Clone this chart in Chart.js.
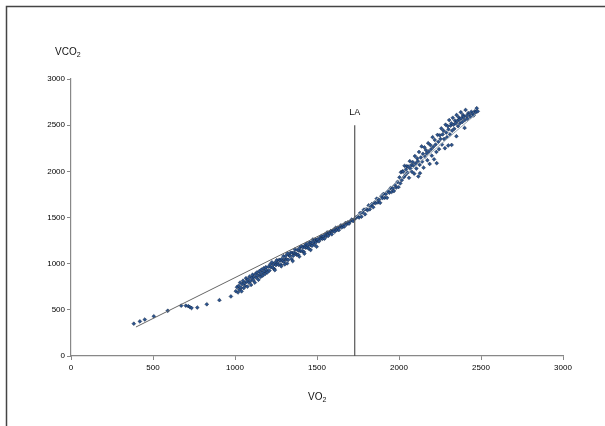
<!DOCTYPE html>
<html>
<head>
<meta charset="utf-8">
<script src="https://cdn.jsdelivr.net/npm/chart.js@4"></script>
<style>
  body { margin: 0; background: #fff; }
  #wrap { position: relative; width: 605px; height: 426px; }
  .axis-title { position: absolute; font-family: "Liberation Sans", Arial, sans-serif; font-size: 10px; color: #111; }
  .axis-title sub { font-size: 7px; vertical-align: -2px; }
</style>
</head>
<body>
<div id="wrap">
  <canvas id="chart" width="605" height="426"></canvas>
  <div class="axis-title" style="left:55px; top:46px;">VCO<sub>2</sub></div>
  <div class="axis-title" style="left:308px; top:391px;">VO<sub>2</sub></div>
</div>
<script>
const vo2 = [
  383, 420, 450, 505, 590, 672, 700, 715, 725, 735, 770, 828, 905, 975,
  1005, 1012, 1018, 1022, 1027, 1031, 1036, 1040, 1044, 1049, 1053, 1058, 1062, 1067, 1071, 1076, 1080, 1085, 1089, 1094,
  1098, 1103, 1107, 1112, 1116, 1121, 1125, 1130, 1134, 1139, 1143, 1148, 1152, 1157, 1161, 1166, 1170, 1175, 1179, 1184,
  1188, 1193, 1197,
  1205, 1210, 1215, 1220, 1225, 1230, 1235, 1240, 1245, 1250, 1255, 1260, 1265, 1270, 1275, 1280, 1285, 1290, 1295, 1300,
  1305, 1310, 1315, 1320, 1325, 1330, 1335, 1340, 1345, 1350, 1355, 1360, 1365, 1370, 1375, 1380, 1385, 1390, 1395, 1400,
  1405, 1410, 1415, 1420, 1425, 1430, 1435, 1440, 1445, 1450, 1455, 1460, 1465, 1470, 1475, 1480, 1485, 1490, 1495, 1500,
  1282, 1318, 1352, 1392, 1423, 1461, 1498, 1243, 1303,
  1505, 1512, 1518, 1523, 1528, 1534, 1540, 1546, 1551, 1557, 1562, 1568, 1573, 1579, 1585, 1590, 1596, 1602, 1608, 1614,
  1620, 1626, 1633, 1640, 1646, 1652, 1659, 1666, 1673, 1680, 1688, 1695, 1703, 1712, 1720, 1728, 1738,
  1748, 1756, 1763, 1771, 1778, 1786, 1793, 1800, 1808, 1815, 1822, 1829, 1836, 1843, 1850, 1857, 1864, 1871, 1878, 1885,
  1892, 1899, 1906, 1913, 1920, 1927, 1934, 1941, 1948, 1955, 1962, 1969, 1976, 1983, 1990, 1997,
  2003, 2008, 2012, 2017, 2021, 2026, 2030, 2034, 2039, 2043, 2048, 2052, 2057, 2061, 2066, 2070, 2075, 2079, 2084, 2088,
  2093, 2097, 2102, 2106, 2111, 2115, 2118, 2122, 2126, 2128, 2133, 2138, 2141, 2146, 2150, 2155, 2159, 2164, 2169, 2173,
  2178, 2182, 2187, 2191, 2196, 2200, 2205, 2209, 2214, 2218, 2223, 2228, 2230, 2235, 2240, 2244, 2249, 2253,
  2258, 2262, 2266, 2271, 2275, 2280, 2284, 2288, 2293, 2297, 2300, 2302, 2306, 2311, 2315, 2319, 2321, 2324, 2328, 2333,
  2337, 2341, 2346, 2350, 2351, 2355, 2360, 2364, 2368, 2372, 2377, 2381, 2386, 2390, 2395, 2400, 2401, 2406, 2411, 2417,
  2422, 2428, 2435, 2441, 2448, 2455, 2462, 2468, 2474, 2480
];
const vco2 = [
  350, 375, 395, 430, 490, 545, 545, 540, 530, 520, 525, 560, 605, 645,
  702, 745, 688, 760, 720, 795, 742, 700, 778, 815, 735, 790, 760, 842, 805, 752, 830, 795, 860, 812,
  770, 845, 880, 820, 858, 795, 890, 848, 905, 870, 826, 918, 885, 858, 935, 902, 872, 950, 918, 890,
  962, 932, 905,
  967, 925, 993, 962, 1015, 958, 990, 942, 1013, 985, 1038, 1007, 988, 1042, 1033, 990, 1050, 1028, 1081, 1020,
  1050, 1085, 1047, 1112, 1042, 1090, 1083, 1120, 1050, 1116, 1085, 1116, 1153, 1110, 1097, 1150, 1097, 1142, 1172, 1136,
  1189, 1136, 1174, 1128, 1194, 1174, 1216, 1173, 1198, 1164, 1229, 1201, 1229, 1194, 1262, 1229, 1204, 1261, 1234, 1257,
  972, 1003, 1028, 1077, 1108, 1148, 1184, 930, 992,
  1263, 1242, 1283, 1268, 1300, 1270, 1294, 1271, 1319, 1299, 1338, 1300, 1333, 1326, 1355, 1318, 1352, 1366, 1346, 1388,
  1364, 1388, 1364, 1398, 1415, 1392, 1414, 1401, 1439, 1426, 1448, 1433, 1459, 1477, 1462, 1482, 1500,
  1512, 1500, 1548, 1509, 1557, 1585, 1535, 1590, 1579, 1631, 1589, 1626, 1648, 1612, 1662, 1655, 1704, 1663, 1691, 1659,
  1731, 1709, 1756, 1714, 1754, 1713, 1784, 1769, 1817, 1777, 1817, 1787, 1850, 1824, 1884, 1830,
  1935, 1870, 1990, 1905, 2000, 1997, 1938, 2060, 1960, 2022, 2055, 1985, 2051, 1930, 2110, 2030, 2068, 1995, 2100, 2060,
  1975, 2165, 2085, 2030, 2140, 2110, 1945, 2210, 2070, 1980, 2150, 2270, 2105, 2190, 2040, 2260, 2160, 2230, 2195, 2120,
  2305, 2215, 2080, 2285, 2240, 2170, 2370, 2265, 2130, 2340, 2290, 2210, 2088, 2395, 2320, 2240, 2390, 2350,
  2465, 2290, 2400, 2440, 2350, 2250, 2505, 2420, 2370, 2490, 2280, 2455, 2555, 2400, 2495, 2520, 2286, 2440, 2580, 2505,
  2460, 2550, 2520, 2380, 2610, 2545, 2490, 2585, 2560, 2520, 2640, 2575, 2535, 2610, 2590, 2470, 2555, 2665, 2600, 2570,
  2630, 2615, 2590, 2645, 2625, 2605, 2650, 2640, 2683, 2650
];

// V-slope fit lines below and above the threshold
const fitLowX = [396, 1730];
const fitLowY = [314, 1495];
const fitHighX = [1730, 2470];
const fitHighY = [1495, 2620];

// lactate threshold marker
const laVo2 = 1730;
const laLineY = [0, 2500];
const laLabel = 'LA';

const axisMax = 3000;
const tickStep = 500;

const toPts = (xs, ys) => xs.map((x, i) => ({ x: x, y: ys[i] }));

const framePlugin = {
  id: 'frame',
  beforeDraw(chart) {
    const c = chart.ctx;
    c.save();
    c.strokeStyle = '#444';
    c.lineWidth = 1.5;
    c.beginPath();
    c.moveTo(6.5, 426);
    c.lineTo(6.5, 6.5);
    c.lineTo(605, 6.5);
    c.stroke();
    c.restore();
  },
  afterDatasetsDraw(chart) {
    const c = chart.ctx;
    const xs = chart.scales.x, ys = chart.scales.y;
    c.save();
    c.font = '9px "Liberation Sans", Arial, sans-serif';
    c.fillStyle = '#111';
    c.textAlign = 'center';
    c.textBaseline = 'bottom';
    c.fillText(laLabel, xs.getPixelForValue(laVo2), ys.getPixelForValue(laLineY[1]) - 8);
    c.restore();
  }
};

const tickFont = { family: '"Liberation Sans", Arial', size: 8 };

new Chart(document.getElementById('chart'), {
  type: 'scatter',
  data: {
    datasets: [
      {
        label: 'fit low', type: 'line', data: toPts(fitLowX, fitLowY),
        borderColor: '#666', borderWidth: 1, pointRadius: 0, fill: false
      },
      {
        label: 'fit high', type: 'line', data: toPts(fitHighX, fitHighY),
        borderColor: '#9aa8b4', borderWidth: 1, pointRadius: 0, fill: false
      },
      {
        label: 'LA', type: 'line', data: toPts([laVo2, laVo2], laLineY),
        borderColor: '#555', borderWidth: 1.2, pointRadius: 0, fill: false
      },
      {
        label: 'VCO2', data: toPts(vo2, vco2),
        pointStyle: 'rectRot', pointRadius: 1.9,
        backgroundColor: '#2b5490', borderColor: '#11223f', borderWidth: 0.5
      }
    ]
  },
  options: {
    responsive: false,
    animation: false,
    layout: { padding: { top: 79, right: 42, left: 0, bottom: 0 } },
    plugins: { legend: { display: false }, tooltip: { enabled: false } },
    scales: {
      x: {
        type: 'linear', min: 0, max: axisMax,
        afterFit(s) { s.height = 70; },
        ticks: { stepSize: tickStep, padding: 3, color: '#000', font: tickFont, callback: v => String(v) },
        grid: { drawOnChartArea: false, drawTicks: true, tickLength: 4, color: '#888' },
        border: { display: true, color: '#888', width: 1.2 }
      },
      y: {
        type: 'linear', min: 0, max: axisMax,
        afterFit(s) { s.width = 71; },
        ticks: { stepSize: tickStep, padding: 2, color: '#000', font: tickFont, callback: v => String(v) },
        grid: { drawOnChartArea: false, drawTicks: true, tickLength: 4, color: '#888' },
        border: { display: true, color: '#888', width: 1.2 }
      }
    }
  },
  plugins: [framePlugin]
});
</script>
</body>
</html>
